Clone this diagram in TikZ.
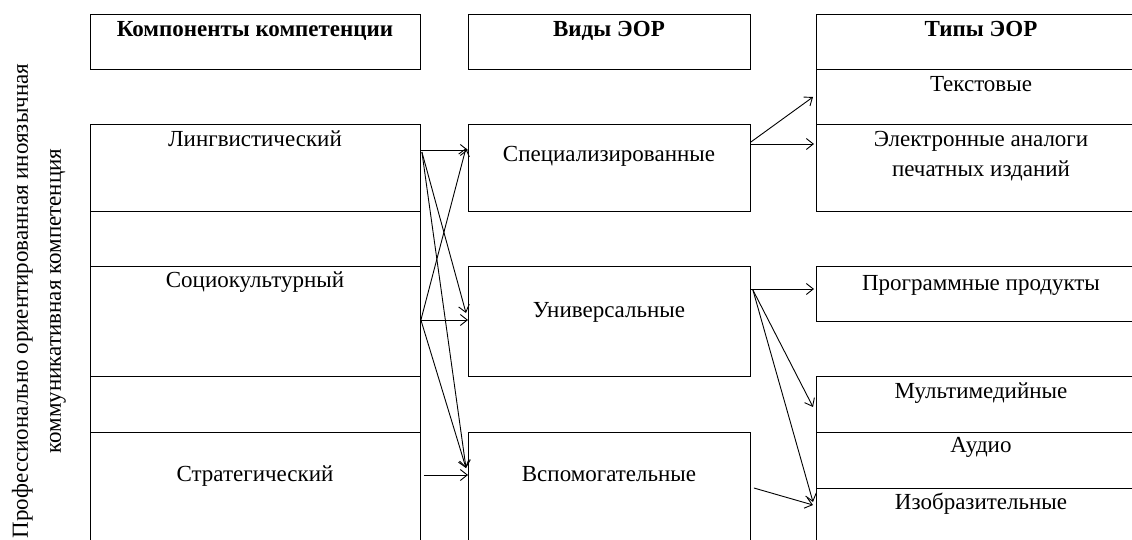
\documentclass[tikz,border=0pt]{standalone}
\usepackage{fontspec}
\setmainfont{Liberation Serif}
\usetikzlibrary{arrows.meta}
\tikzset{
  box/.style={draw, line width=0.9pt, rectangle, inner sep=0pt, anchor=north west},
  lbl/.style={inner sep=0pt, anchor=base, font=\fontsize{23}{30}\selectfont},
  hdr/.style={lbl, font=\fontsize{23}{30}\selectfont\bfseries},
  arr/.style={line width=0.9pt, -{Straight Barb[length=7pt,width=11pt,line width=0.9pt]}}
}
\begin{document}
\begin{tikzpicture}[x=1pt,y=-1pt]
\useasboundingbox (0,0) rectangle (1132,540);
\begin{scope}
\clip (0,0) rectangle (1132,540);
% column 1
\node[box, minimum width=330pt, minimum height=55pt] (h1) at (90,14) {};
\node[box, minimum width=330pt, minimum height=87pt] (ling) at (90,124) {};
\node[box, minimum width=330pt, minimum height=55pt] (g1) at (90,211) {};
\node[box, minimum width=330pt, minimum height=110pt] (socio) at (90,266) {};
\node[box, minimum width=330pt, minimum height=56pt] (g2) at (90,376) {};
\node[box, minimum width=330pt, minimum height=115pt] (strat) at (90,432) {};
% column 2
\node[box, minimum width=282pt, minimum height=55pt] (h2) at (468,14) {};
\node[box, minimum width=282pt, minimum height=87pt] (spec) at (468,124) {};
\node[box, minimum width=282pt, minimum height=110pt] (univ) at (468,266) {};
\node[box, minimum width=282pt, minimum height=115pt] (vsp) at (468,432) {};
% column 3
\node[box, minimum width=330pt, minimum height=55pt] (h3) at (816,14) {};
\node[box, minimum width=330pt, minimum height=55pt] (tekst) at (816,69) {};
\node[box, minimum width=330pt, minimum height=87pt] (elek) at (816,124) {};
\node[box, minimum width=330pt, minimum height=55pt] (prog) at (816,266) {};
\node[box, minimum width=330pt, minimum height=56pt] (multi) at (816,376) {};
\node[box, minimum width=330pt, minimum height=56pt] (audio) at (816,432) {};
\node[box, minimum width=330pt, minimum height=60pt] (izo) at (816,488) {};
\end{scope}
% labels
\node[hdr] (th1) at (255,37) {Компоненты компетенции};
\node[hdr] (th2) at (609,37) {Виды ЭОР};
\node[hdr] (th3) at (981,37) {Типы ЭОР};
\node[lbl] (tling) at (255,146.5) {Лингвистический};
\node[lbl] (tsocio) at (255,287.5) {Социокультурный};
\node[lbl] (tstrat) at (255,481) {Стратегический};
\node[lbl] (tspec) at (609,161.5) {Специализированные};
\node[lbl] (tuniv) at (609,317) {Универсальные};
\node[lbl] (tvsp) at (609,481) {Вспомогательные};
\node[lbl] (ttekst) at (981,91.5) {Текстовые};
\node[lbl] (telek1) at (981,146.5) {Электронные аналоги};
\node[lbl] (telek2) at (981,176.5) {печатных изданий};
\node[lbl] (tprog) at (981,290) {Программные продукты};
\node[lbl] (tmulti) at (981,398) {Мультимедийные};
\node[lbl] (taudio) at (981,452.5) {Аудио};
\node[lbl] (tizo) at (981,509.5) {Изобразительные};
\node[inner sep=0pt, align=center, rotate=90, font=\fontsize{23}{33}\selectfont] (side) at (39,301) {Профессионально ориентированная иноязычная\\коммуникативная компетенция};
% arrows
\draw[arr] ([yshift=-26pt]ling.north east) -- ([yshift=-26pt]spec.north west);
\draw[arr] ([xshift=1pt,yshift=-28pt]ling.north east) -- ([xshift=-2pt,yshift=-47pt]univ.north west);
\draw[arr] ([xshift=1pt,yshift=-28pt]ling.north east) -- ([xshift=-2pt,yshift=-36pt]vsp.north west);
\draw[arr] ([yshift=-54pt]socio.north east) -- ([xshift=-2pt,yshift=-24pt]spec.north west);
\draw[arr] ([yshift=-54pt]socio.north east) -- ([yshift=-54pt]univ.north west);
\draw[arr] ([yshift=-54pt]socio.north east) -- ([xshift=-2pt,yshift=-36pt]vsp.north west);
\draw[arr] ([xshift=3pt,yshift=-43pt]strat.north east) -- ([yshift=-43pt]vsp.north west);
\draw[arr] ([yshift=-18pt]spec.north east) -- ([xshift=-3pt,yshift=-28pt]tekst.north west);
\draw[arr] ([yshift=-20pt]spec.north east) -- ([xshift=-2pt,yshift=-20pt]elek.north west);
\draw[arr] ([yshift=-23pt]univ.north east) -- ([xshift=-2pt,yshift=-23pt]prog.north west);
\draw[arr] ([xshift=2pt,yshift=-24pt]univ.north east) -- ([xshift=-3pt,yshift=-31pt]multi.north west);
\draw[arr] ([xshift=2pt,yshift=-24pt]univ.north east) -- ([xshift=-3pt,yshift=-14pt]izo.north west);
\draw[arr] ([xshift=3pt,yshift=-56pt]vsp.north east) -- ([xshift=-3pt,yshift=-17pt]izo.north west);
\end{tikzpicture}
\end{document}
